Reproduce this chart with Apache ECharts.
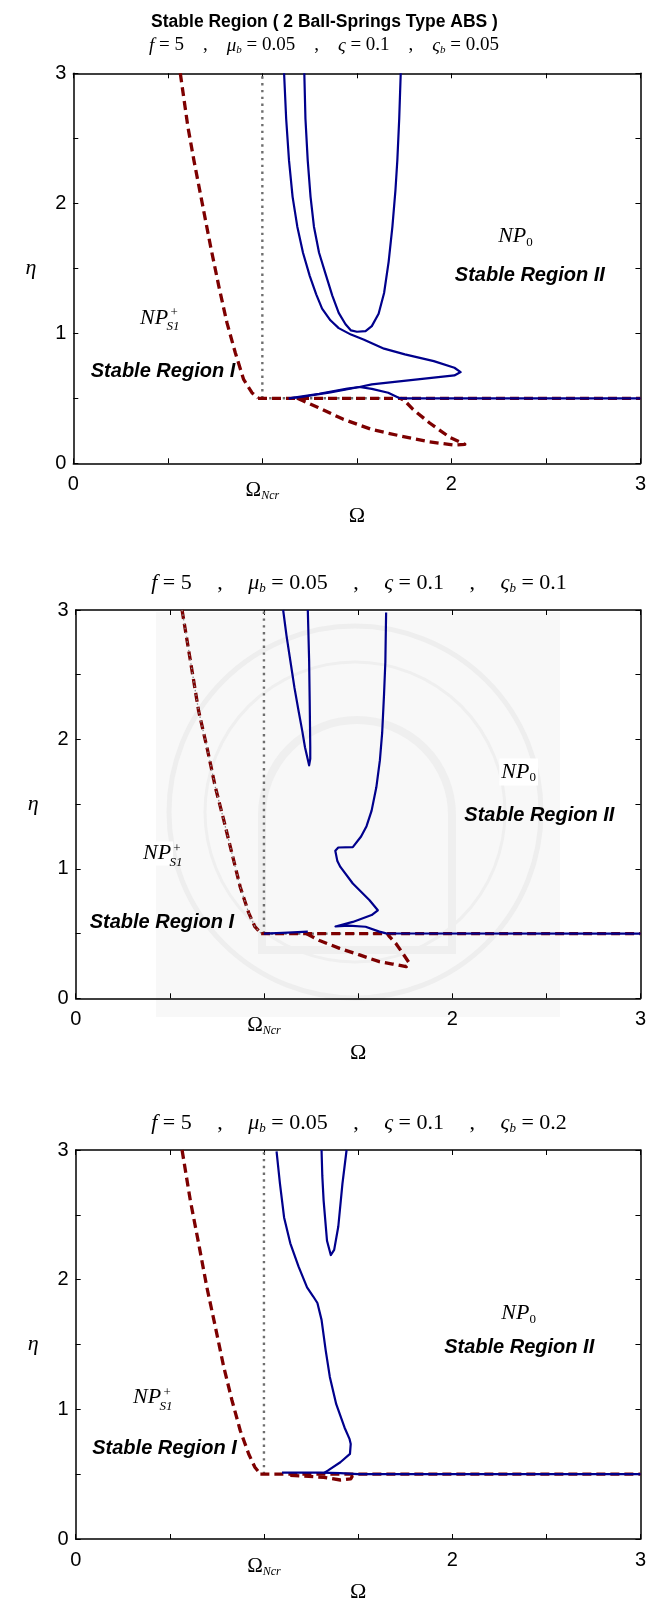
<!DOCTYPE html>
<html><head><meta charset="utf-8">
<script src="https://cdn.jsdelivr.net/npm/echarts@6/dist/echarts.min.js"></script>
<style>html,body{margin:0;padding:0;background:#fff}#c{width:649px;height:1606px}</style>
</head><body><div id="c"></div>
<script>
// ---------- data ----------
const xTickVals = [0, 1, 2, 3];
const xTickText = ['0', '{om|Ω}{nc|Ncr}', '2', '3'];
const yTickVals = [0, 1, 2, 3];
const yTickText = ['0', '1', '2', '3'];

const mainTitle = 'Stable Region ( 2 Ball-Springs Type ABS )';
const zetaB = ['0.05', '0.1', '0.2'];

// plot 1 : zeta_b = 0.05
const red1Left = [[0.566,3],[0.606,2.59],[0.638,2.33],[0.682,2.0],[0.726,1.67],[0.770,1.36],[0.813,1.08],[0.857,0.85],[0.901,0.645],[0.945,0.543],[0.977,0.502]];
const red1Flat = [[0.977,0.5],[3,0.5]];
const red1Loop = [[1.185,0.5],[1.295,0.43],[1.426,0.34],[1.579,0.26],[1.732,0.21],[1.885,0.165],[2.016,0.14],[2.071,0.146],[1.994,0.197],[1.885,0.31],[1.797,0.415],[1.754,0.48],[1.73,0.5]];
const gray1V = [[1,0.5],[1,3]];
const gray1H = [[1,0.5],[1.69,0.5]];
const blue1A = [[1.115,3],[1.126,2.65],[1.141,2.33],[1.160,2.05],[1.185,1.82],[1.215,1.62],[1.251,1.44],[1.285,1.30],[1.316,1.19],[1.36,1.10],[1.404,1.04],[1.469,0.99],[1.535,0.952],[1.644,0.882],[1.754,0.838],[1.907,0.786],[2.016,0.735],[2.049,0.702],[2.016,0.676],[1.797,0.642],[1.579,0.607],[1.513,0.587],[1.36,0.545],[1.207,0.51],[1.14,0.5]];
const blue1B = [[1.222,3],[1.228,2.65],[1.240,2.33],[1.255,2.05],[1.273,1.82],[1.30,1.62],[1.338,1.44],[1.37,1.29],[1.404,1.157],[1.44,1.07],[1.469,1.022],[1.50,1.012],[1.546,1.016],[1.579,1.055],[1.615,1.15],[1.644,1.31],[1.668,1.55],[1.688,1.82],[1.704,2.1],[1.714,2.33],[1.724,2.65],[1.732,3]];
const blue1C = [[1.14,0.5],[1.3,0.535],[1.45,0.575],[1.513,0.587],[1.579,0.572],[1.666,0.543],[1.721,0.504],[1.75,0.5],[3,0.5]];

// plot 2 : zeta_b = 0.1
const red2Left = [[0.565,3],[0.609,2.61],[0.653,2.22],[0.697,1.94],[0.742,1.63],[0.786,1.38],[0.830,1.12],[0.874,0.86],[0.919,0.66],[0.952,0.553],[0.985,0.501]];
const red2Flat = [[0.985,0.5],[3,0.5]];
const red2Loop = [[1.225,0.5],[1.295,0.446],[1.402,0.386],[1.508,0.335],[1.613,0.283],[1.683,0.265],[1.755,0.244],[1.773,0.27],[1.736,0.35],[1.70,0.425],[1.667,0.476],[1.655,0.5]];
const gray2V = [[1,0.5],[1,3]];
const gray2H = [[1,0.5],[1.66,0.5]];
const blue2A = [[1.102,3],[1.120,2.80],[1.140,2.61],[1.162,2.40],[1.184,2.22],[1.203,2.07],[1.218,1.94],[1.232,1.85],[1.240,1.80],[1.246,1.85],[1.246,1.94],[1.243,2.3],[1.240,2.61],[1.233,3]];
const blue2B = [[1.649,2.98],[1.645,2.6],[1.638,2.35],[1.628,2.05],[1.616,1.84],[1.597,1.63],[1.572,1.45],[1.545,1.33],[1.516,1.25],[1.472,1.168],[1.395,1.165],[1.379,1.14],[1.39,1.06],[1.406,1.015],[1.472,0.887],[1.561,0.758],[1.605,0.68],[1.572,0.643],[1.472,0.59],[1.38,0.555],[1.45,0.562],[1.54,0.553],[1.613,0.515],[1.649,0.502],[3,0.5]];
const blue2Low = [[1.0,0.5],[1.1,0.505],[1.233,0.515]];

// plot 3 : zeta_b = 0.2
const red3Left = [[0.565,3],[0.609,2.61],[0.653,2.28],[0.697,1.94],[0.742,1.635],[0.786,1.33],[0.830,1.07],[0.874,0.837],[0.919,0.656],[0.952,0.553],[0.981,0.502]];
const red3Flat = [[0.981,0.5],[3,0.5]];
const red3Loop = [[1.14,0.49],[1.317,0.476],[1.406,0.455],[1.461,0.463],[1.468,0.481],[1.44,0.497]];
const gray3V = [[1,0.5],[1,3]];
const blue3A = [[1.067,2.99],[1.085,2.74],[1.107,2.48],[1.140,2.28],[1.184,2.10],[1.229,1.94],[1.262,1.87],[1.284,1.82],[1.306,1.69],[1.328,1.455],[1.350,1.25],[1.384,1.04],[1.428,0.86],[1.455,0.77],[1.461,0.733],[1.457,0.656],[1.406,0.592],[1.339,0.527],[1.317,0.507]];
const blue3B = [[1.306,3],[1.310,2.8],[1.317,2.61],[1.335,2.30],[1.355,2.19],[1.373,2.23],[1.395,2.41],[1.417,2.74],[1.439,3]];
const blue3Flat = [[1.096,0.512],[1.30,0.512],[1.406,0.508],[1.5,0.5],[3,0.5]];

// region text anchors [omega, eta] per plot
const np0Pos   = [[2.339,1.746],[2.353,1.748],[2.353,1.74]];
const npS1Pos  = [[0.4275,1.119],[0.432,1.118],[0.379,1.09]];
const sr1Pos   = [[0.4745,0.703],[0.458,0.589],[0.4716,0.695]];
const sr2Pos   = [[2.415,1.443],[2.463,1.411],[2.356,1.477]];

// ---------- layout ----------
const gridBoxes = [
  {left:73.3, top:73.3, width:567.4, height:390},
  {left:75.7, top:610, width:565.8, height:388.3},
  {left:75.7, top:1150, width:565.8, height:389}
];
const subTitleTop = [35, 571, 1111];
const subTitleCenter = [324, 359, 359];
const subFont = [19, 22, 22];
const subGap = [19, 25.5, 25.5];
const omegaGap = [42, 44, 42];

const SANS = 'Liberation Sans', SERIF = 'Liberation Serif';
const styles = {
  red:  {color:'#7d0000', width:3.3, type:[9,5]},
  blue: {color:'#00008c', width:2.2, type:'solid'},
  gray: {color:'#6e6e6e', width:2.4, type:[2.4,4.4]}
};

const xAxis = [], yAxis = [], series = [];
gridBoxes.forEach((g, gi) => {
  xAxis.push({
    gridIndex: gi, type:'value', min:0, max:3, interval:0.5, position:'bottom',
    axisLine:{show:true, onZero:false, lineStyle:{color:'#000', width:1.5}},
    axisTick:{show:true, inside:true, length:5, lineStyle:{color:'#000', width:1}},
    splitLine:{show:false},
    axisLabel:{
      show:true, margin:11, color:'#000', fontFamily:SANS, fontSize:20,
      showMinLabel:true, showMaxLabel:true,
      formatter: v => { const i = xTickVals.indexOf(Math.round(v*1000)/1000); return i < 0 ? '' : xTickText[i]; },
      rich:{
        om:{fontFamily:SERIF, fontSize:21, color:'#000', padding:[4,0,0,0]},
        nc:{fontFamily:SERIF, fontStyle:'italic', fontSize:12, color:'#000', padding:[16,0,0,0]}
      }
    },
    name:'Ω', nameLocation:'middle', nameGap:omegaGap[gi],
    nameTextStyle:{fontFamily:SERIF, fontSize:22, color:'#000'}
  });
  xAxis.push({
    gridIndex: gi, type:'value', min:0, max:3, interval:0.5, position:'top',
    axisLine:{show:true, onZero:false, lineStyle:{color:'#000', width:1.5}},
    axisTick:{show:true, inside:true, length:5, lineStyle:{color:'#000', width:1}},
    splitLine:{show:false}, axisLabel:{show:false}
  });
  yAxis.push({
    gridIndex: gi, type:'value', min:0, max:3, interval:0.5, position:'left',
    axisLine:{show:true, onZero:false, lineStyle:{color:'#000', width:1.5}},
    axisTick:{show:true, inside:true, length:5, lineStyle:{color:'#000', width:1}},
    splitLine:{show:false},
    axisLabel:{
      show:true, margin:7, color:'#000', fontFamily:SANS, fontSize:20,
      formatter: v => { const i = yTickVals.indexOf(Math.round(v*1000)/1000); return i < 0 ? '' : yTickText[i]; }
    },
    name:'η', nameLocation:'middle', nameGap:37, nameRotate:0,
    nameTextStyle:{fontFamily:SERIF, fontStyle:'italic', fontSize:22, color:'#000'}
  });
  yAxis.push({
    gridIndex: gi, type:'value', min:0, max:3, interval:0.5, position:'right',
    axisLine:{show:true, onZero:false, lineStyle:{color:'#000', width:1.5}},
    axisTick:{show:true, inside:true, length:5, lineStyle:{color:'#000', width:1}},
    splitLine:{show:false}, axisLabel:{show:false}
  });
});

function addLine(gi, data, kind, z) {
  series.push({
    type:'line', xAxisIndex: gi*2, yAxisIndex: gi*2, data: data,
    showSymbol:false, symbol:'none', smooth:false, silent:true, animation:false,
    lineStyle: Object.assign({cap:'butt', join:'round'}, styles[kind]), z: z || 2
  });
}
function addText(gi, pos, label) {
  series.push({
    type:'scatter', xAxisIndex: gi*2, yAxisIndex: gi*2, data:[pos],
    symbolSize:0, silent:true, animation:false, z:5,
    itemStyle:{opacity:1, color:'#000'},
    emphasis:{disabled:true},
    label: Object.assign({show:true, position:'inside', color:'#000', opacity:1, textBorderWidth:0, textShadowBlur:0}, label)
  });
}

const plots = [
  {red:[red1Left, red1Flat, red1Loop], gray:[gray1V, gray1H], blue:[blue1A, blue1B, blue1C], grayOnRed:false},
  {red:[red2Left, red2Flat, red2Loop], gray:[gray2V, gray2H], blue:[blue2A, blue2B, blue2Low], grayOnRed:true},
  {red:[red3Left, red3Flat, red3Loop], gray:[gray3V], blue:[blue3A, blue3B, blue3Flat], grayOnRed:false}
];

plots.forEach((p, gi) => {
  const bg = gi === 1 ? '#fff' : 'transparent';
  p.gray.forEach(d => addLine(gi, d, 'gray', 2));
  p.red.forEach(d => addLine(gi, d, 'red', 3));
  if (p.grayOnRed) series.push({
    type:'line', xAxisIndex: gi*2, yAxisIndex: gi*2, data: p.red[0],
    showSymbol:false, symbol:'none', silent:true, animation:false, z:3.5,
    lineStyle:{color:'#8a8a8a', width:1.3, type:[1.5,3]}
  });
  p.blue.forEach(d => addLine(gi, d, 'blue', 4));

  addText(gi, np0Pos[gi], {formatter:'{n|NP}{s|0}', backgroundColor:bg, padding:[1,2,1,2], rich:{
    n:{fontFamily:SERIF, fontStyle:'italic', fontSize:22, color:'#000'},
    s:{fontFamily:SERIF, fontSize:13, color:'#000', padding:[12,0,0,0]}
  }});
  addText(gi, npS1Pos[gi], {formatter:'NP', fontFamily:SERIF, fontStyle:'italic', fontSize:22, backgroundColor:bg, padding:[1,2,1,2]});
  addText(gi, npS1Pos[gi], {formatter:'+', fontFamily:SERIF, fontSize:13, offset:[20,-5]});
  addText(gi, npS1Pos[gi], {formatter:'S1', fontFamily:SERIF, fontStyle:'italic', fontSize:13, offset:[19,9]});
  addText(gi, sr1Pos[gi], {formatter:'Stable Region I', fontFamily:SANS, fontStyle:'italic', fontWeight:'bold', fontSize:20});
  addText(gi, sr2Pos[gi], {formatter:'Stable Region II', fontFamily:SANS, fontStyle:'italic', fontWeight:'bold', fontSize:20});
});

const titles = [{
  text: mainTitle, left:'center', top:8,
  textStyle:{fontFamily:SANS, fontWeight:'bold', fontSize:17.5, color:'#000'}
}];
zetaB.forEach((z, gi) => {
  const fs = subFont[gi], gap = subGap[gi];
  const rich = {
    r:{fontFamily:SERIF, fontWeight:'normal', fontSize:fs, color:'#000'},
    i:{fontFamily:SERIF, fontWeight:'normal', fontStyle:'italic', fontSize:fs, color:'#000'},
    c:{fontFamily:SERIF, fontWeight:'normal', fontSize:fs, color:'#000', padding:[0,gap,0,gap]},
    b:{fontFamily:SERIF, fontWeight:'normal', fontStyle:'italic', fontSize:Math.round(fs*0.6), color:'#000', padding:[Math.round(fs*0.5),0,0,0]}
  };
  titles.push({
    text: '{i|f}{r| = 5}{c|,}{i|μ}{b|b}{r| = 0.05}{c|,}{i|ς}{r| = 0.1}{c|,}{i|ς}{b|b}{r| = ' + z + '}',
    left: subTitleCenter[gi], textAlign:'center', top: subTitleTop[gi], padding:0,
    textStyle:{fontWeight:'normal', rich: rich}
  });
});

const chart = echarts.init(document.getElementById('c'), null, {renderer:'canvas'});
chart.setOption({
  animation:false,
  backgroundColor:'#fff',
  title: titles,
  grid: gridBoxes.map(b => Object.assign({containLabel:false}, b)),
  xAxis, yAxis, series,
  graphic: [
    {type:'rect', shape:{x:156, y:612, width:404, height:405}, style:{fill:'#f8f8f8'}, z:-10, silent:true},
    {type:'circle', shape:{cx:355, cy:812, r:186}, style:{fill:'none', stroke:'#eeeeee', lineWidth:5}, z:-9, silent:true},
    {type:'circle', shape:{cx:355, cy:812, r:150}, style:{fill:'none', stroke:'#efefef', lineWidth:3}, z:-9, silent:true},
    {type:'rect', shape:{x:262, y:720, width:190, height:230, r:[95,95,0,0]}, style:{fill:'none', stroke:'#efefef', lineWidth:8}, z:-9, silent:true}
  ]
});
</script></body></html>
